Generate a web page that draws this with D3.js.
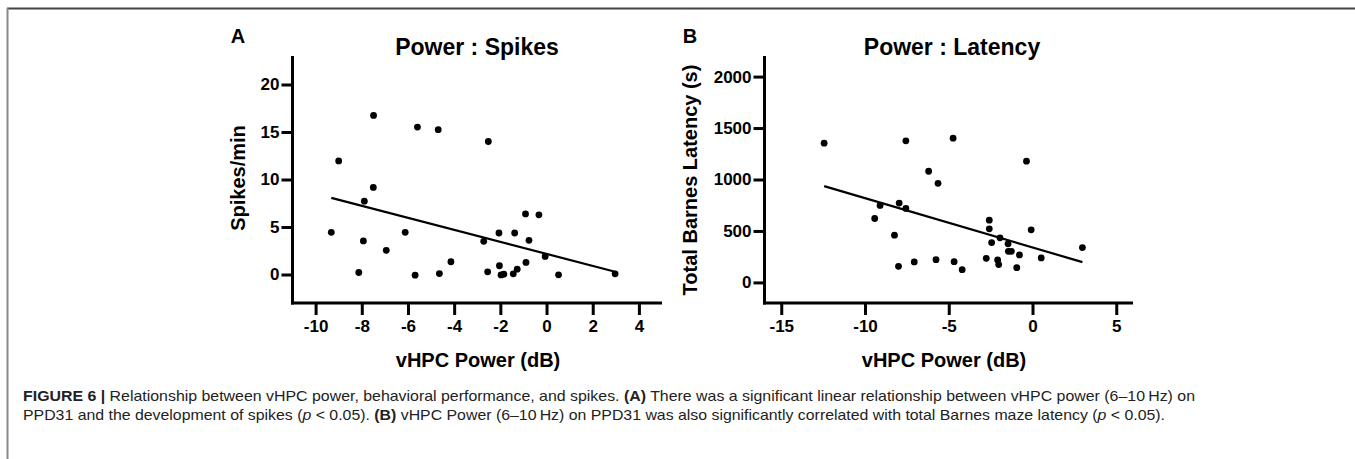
<!DOCTYPE html>
<html>
<head>
<meta charset="utf-8">
<script src="https://cdn.jsdelivr.net/npm/d3@7"></script>
<style>
  body { margin: 0; background: #fff; }
  text { font-family: "Liberation Sans", Arial, sans-serif; }
</style>
</head>
<body>
<div id="fig"></div>
<script>
// Panel A: vHPC power vs spikes/min
var spikesX = [-7.49, -5.59, -4.69, -2.52, -9.0, -7.5, -7.89, -9.32, -7.93, -6.94, -6.12,
  -8.13, -5.69, -4.64, -4.14, -2.72, -2.55, -2.06, -2.04, -1.97, -1.85, -1.44, -1.27,
  -1.38, -0.91, -0.89, -0.76, -0.33, -0.06, 0.52, 2.97];
var spikesY = [16.75, 15.52, 15.24, 14.0, 11.96, 9.17, 7.72, 4.44, 3.53, 2.54, 4.44,
  0.21, -0.07, 0.1, 1.34, 3.49, 0.28, 4.37, 0.92, -0.04, 0.03, 0.07, 0.56,
  4.37, 6.38, 1.27, 3.6, 6.28, 1.9, -0.03, 0.07];
var spikesFit = { slope: -0.633, intercept: 2.17 };

// Panel B: vHPC power vs total Barnes latency
var latencyX = [-12.44, -7.56, -4.74, -6.2, -5.64, -9.1, -9.42, -7.96, -7.56, -8.24, -8.0,
  -7.06, -5.76, -4.68, -4.2, -0.36, -2.58, -2.58, -1.94, -2.44, -1.46, -1.44, -1.26,
  -0.78, -0.08, 0.52, 2.98, -2.76, -2.08, -2.02, -0.94];
var latencyY = [1353, 1376, 1402, 1080, 963, 748, 621, 771, 719, 459, 156,
  199, 221, 202, 124, 1178, 605, 521, 433, 387, 375, 302, 302,
  267, 511, 238, 339, 234, 218, 173, 143];
var latencyFit = { slope: -47.9, intercept: 340 };

var spikesTicksX = [-10, -8, -6, -4, -2, 0, 2, 4];
var spikesTicksY = [0, 5, 10, 15, 20];
var latencyTicksX = [-15, -10, -5, 0, 5];
var latencyTicksY = [0, 500, 1000, 1500, 2000];

var W = 1355, H = 459;
var svg = d3.select("#fig").append("svg")
    .attr("width", W)
    .attr("height", H);

// figure frame (top + left rule)
svg.append("line").attr("x1", 7).attr("x2", W).attr("y1", 8.5).attr("y2", 8.5)
    .attr("stroke", "#444").attr("stroke-width", 2);
svg.append("line").attr("x1", 7.5).attr("x2", 7.5).attr("y1", 8).attr("y2", H)
    .attr("stroke", "#888").attr("stroke-width", 2);

var plain = function(d) { return String(d); };  // hyphen minus, no thousands comma

function panel(opt) {
    var g = svg.append("g");
    var x = d3.scaleLinear().domain(opt.xDomain).range([opt.left, opt.right]);
    var y = d3.scaleLinear().domain(opt.yDomain).range([opt.bottom, opt.top]);

    var xAxis = g.append("g")
        .attr("transform", "translate(0," + opt.bottom + ")")
        .call(d3.axisBottom(x).tickValues(opt.xTicks).tickFormat(plain)
            .tickSize(12).tickSizeOuter(0).tickPadding(5));
    var yAxis = g.append("g")
        .attr("transform", "translate(" + opt.left + ",0)")
        .call(d3.axisLeft(y).tickValues(opt.yTicks).tickFormat(plain)
            .tickSize(11).tickSizeOuter(0).tickPadding(2));

    [xAxis, yAxis].forEach(function(a) {
        a.selectAll("path, line").attr("stroke", "#000").attr("stroke-width", 3);
        a.selectAll("text").attr("fill", "#000")
            .style("font-size", "17px").style("font-weight", "bold");
    });
    // make the corner meet cleanly
    xAxis.select(".domain").attr("d", "M" + (opt.left - 1.5) + ",0H" + opt.right);
    yAxis.select(".domain").attr("d", "M0," + opt.top + "V" + (opt.bottom + 1.5));

    var pts = opt.xs.map(function(v, i) { return [v, opt.ys[i]]; });
    g.selectAll("circle.dot").data(pts).enter().append("circle")
        .attr("class", "dot")
        .attr("cx", function(d) { return x(d[0]); })
        .attr("cy", function(d) { return y(d[1]); })
        .attr("r", 3.4)
        .attr("fill", "#000");

    var x0 = d3.min(opt.xs), x1 = d3.max(opt.xs);
    g.append("line")
        .attr("x1", x(x0)).attr("y1", y(opt.fit.intercept + opt.fit.slope * x0))
        .attr("x2", x(x1)).attr("y2", y(opt.fit.intercept + opt.fit.slope * x1))
        .attr("stroke", "#000").attr("stroke-width", 2.2);

    g.append("text").text(opt.title)
        .attr("x", opt.titleX).attr("y", 55)
        .attr("text-anchor", "middle")
        .style("font-size", "23px").style("font-weight", "bold");
    g.append("text").text(opt.letter)
        .attr("x", opt.letterX).attr("y", 43)
        .attr("text-anchor", "middle")
        .style("font-size", "20px").style("font-weight", "bold");
    g.append("text").text("vHPC Power (dB)")
        .attr("x", opt.xLabelX).attr("y", 367)
        .attr("text-anchor", "middle")
        .style("font-size", "20px").style("font-weight", "bold");
    g.append("text").text(opt.yLabel)
        .attr("transform", "translate(" + (opt.letterX + 7) + "," + opt.yLabelY + ") rotate(-90)")
        .attr("text-anchor", "middle")
        .style("font-size", "20px").style("font-weight", "bold");
}

panel({
    xs: spikesX, ys: spikesY, fit: spikesFit,
    xDomain: [-11, 5], yDomain: [-3, 23],
    xTicks: spikesTicksX, yTicks: spikesTicksY,
    left: 292.5, right: 662, top: 56, bottom: 303,
    title: "Power : Spikes", titleX: 477,
    letter: "A", letterX: 238,
    xLabelX: 478, yLabel: "Spikes/min", yLabelY: 178
});

panel({
    xs: latencyX, ys: latencyY, fit: latencyFit,
    xDomain: [-16, 6], yDomain: [-200, 2200],
    xTicks: latencyTicksX, yTicks: latencyTicksY,
    left: 764.5, right: 1133, top: 56, bottom: 303,
    title: "Power : Latency", titleX: 952,
    letter: "B", letterX: 690,
    xLabelX: 944, yLabel: "Total Barnes Latency (s)", yLabelY: 180
});

// caption
var cap1 = svg.append("text").attr("x", 23).attr("y", 400.5)
    .attr("textLength", 1172).attr("lengthAdjust", "spacingAndGlyphs")
    .attr("fill", "#222").style("font-size", "14.5px");
cap1.append("tspan").style("font-weight", "bold").text("FIGURE 6 | ");
cap1.append("tspan").text("Relationship between vHPC power, behavioral performance, and spikes. ");
cap1.append("tspan").style("font-weight", "bold").text("(A)");
cap1.append("tspan").text(" There was a significant linear relationship between vHPC power (6\u201310\u2009Hz) on");

var cap2 = svg.append("text").attr("x", 23).attr("y", 420)
    .attr("textLength", 1142).attr("lengthAdjust", "spacingAndGlyphs")
    .attr("fill", "#222").style("font-size", "14.5px");
cap2.append("tspan").text("PPD31 and the development of spikes (");
cap2.append("tspan").style("font-style", "italic").text("p");
cap2.append("tspan").text(" < 0.05). ");
cap2.append("tspan").style("font-weight", "bold").text("(B)");
cap2.append("tspan").text(" vHPC Power (6\u201310\u2009Hz) on PPD31 was also significantly correlated with total Barnes maze latency (");
cap2.append("tspan").style("font-style", "italic").text("p");
cap2.append("tspan").text(" < 0.05).");
</script>
</body>
</html>
